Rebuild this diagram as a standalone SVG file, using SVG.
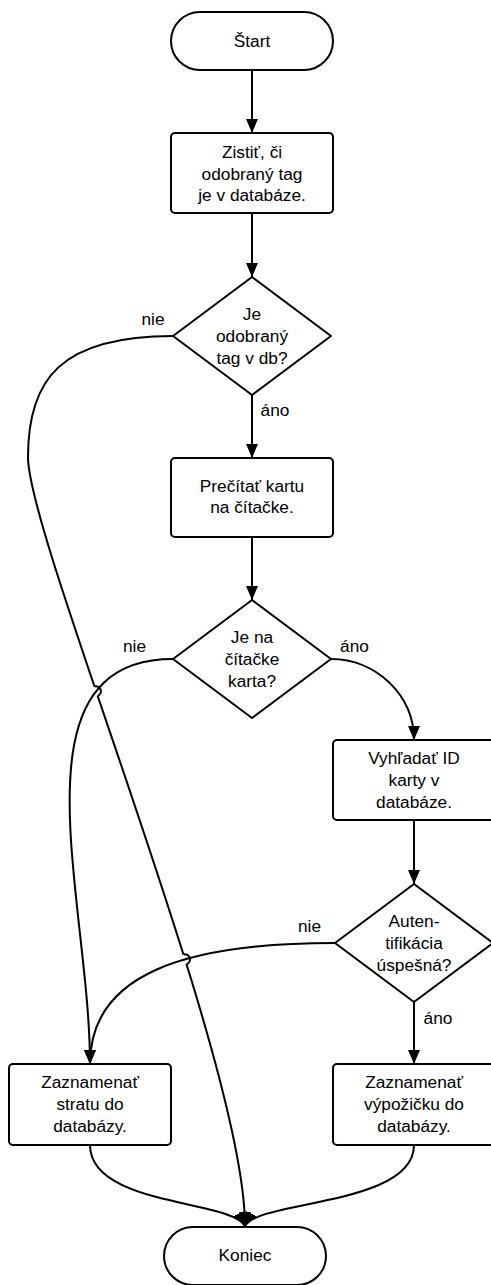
<svg xmlns="http://www.w3.org/2000/svg" width="491" height="1285" viewBox="0 0 491 1285">
  <style>
    .shape { fill: #ffffff; stroke: #000000; stroke-width: 2; stroke-linejoin: round; }
    .label { font-family: "Liberation Sans", Arial, sans-serif; font-size: 17.3px; fill: #000000; text-anchor: middle; }
    .edge { fill: none; stroke: #000000; stroke-width: 2; }
    .arrow { marker-end: url(#head); }
  </style>
  <defs>
    <marker id="head" markerUnits="userSpaceOnUse" markerWidth="14" markerHeight="12" viewBox="0 0 14 12" refX="14" refY="6" orient="auto">
      <path d="M0,0 L14,6 L0,12 z" fill="#000000"/>
    </marker>
    <!-- gaps where the long "nie" line hops over the other connectors -->
    <mask id="hops" maskUnits="userSpaceOnUse" x="0" y="0" width="491" height="1285">
      <rect x="0" y="0" width="491" height="1285" fill="#ffffff"/>
      <circle cx="96.05" cy="691.2" r="5" fill="#000000"/>
      <circle cx="185.05" cy="959.35" r="5" fill="#000000"/>
    </mask>
  </defs>

  <!-- connectors -->
  <g id="connectors">
    <path class="edge arrow" d="M252,70 L252,133"/>
    <path class="edge arrow" d="M252,213 L252,277"/>
    <path class="edge arrow" d="M252,395 L252,458"/>
    <path class="edge arrow" d="M252,537 L252,600"/>
    <path class="edge arrow" d="M414,820 L414,884"/>
    <path class="edge arrow" d="M414,1002 L414,1064"/>
    <!-- tag not in db: straight to the end -->
    <path class="edge arrow" mask="url(#hops)" d="M173,336 C60,336 28,380 28,457 C28,540 245,1060 245,1226"/>
    <path class="edge" d="M94.44,686.47 A5,5 0 0 1 97.66,695.93"/>
    <path class="edge" d="M183.57,954.58 A5,5 0 0 1 186.53,964.13"/>
    <!-- no card on reader -->
    <path class="edge arrow" d="M173,659 C8,659 90,901 90,1064"/>
    <!-- card present -->
    <path class="edge arrow" d="M331,659 C376,659 414,695 414,740"/>
    <!-- authentication failed -->
    <path class="edge arrow" d="M335,943 C185,943 90,974 90,1064"/>
    <!-- both records lead to the end -->
    <path class="edge arrow" d="M90,1145 C90,1206 232,1200 245,1226"/>
    <path class="edge arrow" d="M414,1145 C414,1206 258,1200 245,1226"/>

    <text class="label" x="153" y="325">nie</text>
    <text class="label" x="275" y="416">áno</text>
    <text class="label" x="134.5" y="652">nie</text>
    <text class="label" x="354.5" y="652">áno</text>
    <text class="label" x="309.5" y="932">nie</text>
    <text class="label" x="438" y="1024">áno</text>
  </g>

  <g id="start">
    <rect class="shape" x="171" y="12" width="162" height="58" rx="29" ry="29"/>
    <text class="label" x="252" y="47">Štart</text>
  </g>

  <g id="check-tag">
    <rect class="shape" x="171" y="133" width="162" height="80" rx="4" ry="4"/>
    <text class="label" x="252" y="158">Zistiť, či</text>
    <text class="label" x="252" y="179.7">odobraný tag</text>
    <text class="label" x="252" y="201.4">je v databáze.</text>
  </g>

  <g id="tag-in-db">
    <polygon class="shape" points="252,277 331,336 252,395 173,336"/>
    <text class="label" x="252" y="320.3">Je</text>
    <text class="label" x="252" y="342">odobraný</text>
    <text class="label" x="252" y="363.7">tag v db?</text>
  </g>

  <g id="read-card">
    <rect class="shape" x="171" y="458" width="162" height="79" rx="4" ry="4"/>
    <text class="label" x="252" y="491.5">Prečítať kartu</text>
    <text class="label" x="252" y="513.2">na čítačke.</text>
  </g>

  <g id="card-on-reader">
    <polygon class="shape" points="252,600 331,659 252,718 173,659"/>
    <text class="label" x="252" y="643.3">Je na</text>
    <text class="label" x="252" y="665">čítačke</text>
    <text class="label" x="252" y="686.7">karta?</text>
  </g>

  <g id="lookup-card">
    <rect class="shape" x="333" y="740" width="162" height="80" rx="4" ry="4"/>
    <text class="label" x="414" y="764.3">Vyhľadať ID</text>
    <text class="label" x="414" y="786">karty v</text>
    <text class="label" x="414" y="807.7">databáze.</text>
  </g>

  <g id="auth-ok">
    <polygon class="shape" points="414,884 493,943 414,1002 335,943"/>
    <text class="label" x="414" y="927.3">Auten-</text>
    <text class="label" x="414" y="949">tifikácia</text>
    <text class="label" x="414" y="970.7">úspešná?</text>
  </g>

  <g id="record-loss">
    <rect class="shape" x="9" y="1064" width="162" height="81" rx="4" ry="4"/>
    <text class="label" x="90" y="1088.3">Zaznamenať</text>
    <text class="label" x="90" y="1110">stratu do</text>
    <text class="label" x="90" y="1131.7">databázy.</text>
  </g>

  <g id="record-loan">
    <rect class="shape" x="333" y="1064" width="162" height="81" rx="4" ry="4"/>
    <text class="label" x="414" y="1088.3">Zaznamenať</text>
    <text class="label" x="414" y="1110">výpožičku do</text>
    <text class="label" x="414" y="1131.7">databázy.</text>
  </g>

  <g id="end">
    <rect class="shape" x="164" y="1227" width="162" height="58" rx="29" ry="29"/>
    <text class="label" x="245" y="1261">Koniec</text>
  </g>
</svg>
